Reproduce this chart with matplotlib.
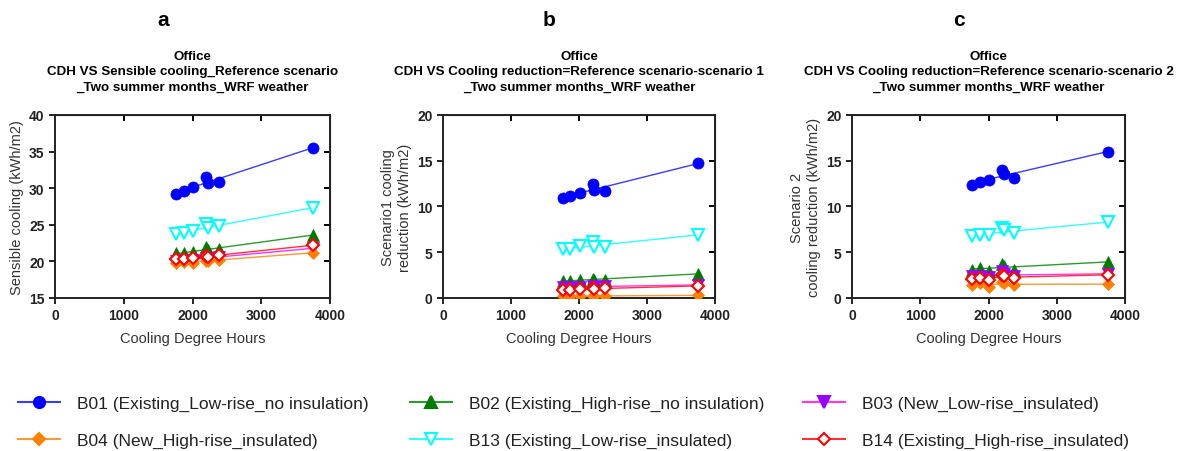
import numpy as np
import matplotlib
matplotlib.use("Agg")
from matplotlib import pyplot as plt
from matplotlib.lines import Line2D

plt.rcParams['font.family'] = ['Liberation Sans', 'DejaVu Sans']

# cooling degree hours of the 7 cities
cdh = [1760, 1870, 2010, 2200, 2220, 2380, 3750]

# panel a: sensible cooling, reference scenario
a_b01 = [29.2, 29.6, 30.2, 31.5, 30.7, 30.9, 35.5]
a_b02 = [21.1, 21.1, 21.3, 21.9, 21.6, 21.7, 23.6]
a_b03 = [20.1, 20.2, 20.2, 20.5, 20.4, 20.6, 21.8]
a_b04 = [19.8, 19.9, 19.8, 20.1, 20.0, 20.2, 21.2]
a_b13 = [23.8, 23.9, 24.2, 25.1, 24.5, 24.8, 27.3]
a_b14 = [20.3, 20.3, 20.4, 20.8, 20.6, 20.9, 22.2]

# panel b: reduction, scenario 1
b_b01 = [10.9, 11.1, 11.5, 12.5, 11.8, 11.7, 14.7]
b_b02 = [1.85, 1.85, 2.0, 2.1, 2.0, 2.0, 2.65]
b_b03 = [1.15, 1.15, 1.2, 1.35, 1.25, 1.3, 1.4]
b_b04 = [0.25, 0.2, 0.2, 0.25, 0.2, 0.2, 0.3]
b_b13 = [5.3, 5.3, 5.7, 6.1, 5.6, 5.6, 6.9]
b_b14 = [0.85, 0.9, 1.0, 1.1, 1.0, 1.05, 1.3]

# panel c: reduction, scenario 2
c_b01 = [12.4, 12.7, 12.9, 14.0, 13.5, 13.1, 16.0]
c_b02 = [3.1, 3.3, 3.0, 3.7, 3.5, 3.1, 3.95]
c_b03 = [2.4, 2.4, 2.3, 2.9, 2.6, 2.4, 2.6]
c_b04 = [1.4, 1.65, 1.25, 1.7, 1.6, 1.4, 1.5]
c_b13 = [6.8, 6.85, 6.9, 7.6, 7.45, 7.1, 8.25]
c_b14 = [2.1, 2.2, 2.0, 2.5, 2.4, 2.2, 2.5]

labels = ["B01 (Existing_Low-rise_no insulation)", "B02 (Existing_High-rise_no insulation)",
          "B03 (New_Low-rise_insulated)", "B04 (New_High-rise_insulated)",
          "B13 (Existing_Low-rise_insulated)", "B14 (Existing_High-rise_insulated)"]

# marker, marker colour, line colour, filled
styles = [("o", "#0000ff", "#3b3bff", True),
          ("^", "#007a00", "#2e9a2e", True),
          ("v", "#9900ff", "#ff33ff", True),
          ("D", "#ff8000", "#ff9933", True),
          ("v", "#00ffff", "#33ffff", False),
          ("D", "#ff0000", "#ff3333", False)]
sizes = [8, 8, 8, 6, 9, 6.5]

panels = [
    dict(data=[a_b01, a_b02, a_b03, a_b04, a_b13, a_b14], ylim=(15, 40), yt=range(15, 41, 5),
         ylabel="Sensible cooling (kWh/m2)", letter="a",
         title="Office\nCDH VS Sensible cooling_Reference scenario\n_Two summer months_WRF weather",
         pos=[0.0465, 0.3385, 0.2325, 0.405]),
    dict(data=[b_b01, b_b02, b_b03, b_b04, b_b13, b_b14], ylim=(0, 20), yt=range(0, 21, 5),
         ylabel="Scenario1 cooling\nreduction (kWh/m2)", letter="b",
         title="Office\nCDH VS Cooling reduction=Reference scenario-scenario 1\n_Two summer months_WRF weather",
         pos=[0.3745, 0.3385, 0.23, 0.405]),
    dict(data=[c_b01, c_b02, c_b03, c_b04, c_b13, c_b14], ylim=(0, 20), yt=range(0, 21, 5),
         ylabel="Scenario 2\ncooling reduction (kWh/m2)", letter="c",
         title="Office\nCDH VS Cooling reduction=Reference scenario-scenario 2\n_Two summer months_WRF weather",
         pos=[0.7202, 0.3385, 0.2308, 0.405]),
]

fig = plt.figure(figsize=(11.83, 4.52), dpi=100)
x = np.array(cdh)
for p in panels:
    ax = fig.add_axes(p["pos"])
    for (m, mc, lc, filled), ys, ms in zip(styles, p["data"], sizes):
        k, b = np.polyfit(x, ys, 1)
        xs = np.array([x.min(), x.max()])
        ax.plot(xs, k * xs + b, color=lc, lw=1.0, zorder=2)
        ax.plot(x, ys, ls="none", marker=m, ms=ms, color=mc,
                mfc=mc if filled else "white", mew=1.5 if not filled else 0.5, zorder=3)
    ax.set_xlim(0, 4000)
    ax.set_ylim(*p["ylim"])
    ax.set_xticks([0, 1000, 2000, 3000, 4000])
    ax.set_yticks(list(p["yt"]))
    for s in ax.spines.values():
        s.set_linewidth(1.4)
        s.set_color("#222222")
    ax.tick_params(direction="out", length=4, width=1.4, labelsize=10, colors="#222222")
    for t in ax.get_xticklabels() + ax.get_yticklabels():
        t.set_fontweight("bold")
    top = ax.secondary_xaxis("top")
    top.set_xticks([1000, 2000, 3000])
    top.tick_params(direction="in", length=4, width=1.4, labeltop=False)
    right = ax.secondary_yaxis("right")
    right.set_yticks(list(p["yt"])[1:-1])
    right.tick_params(direction="in", length=4, width=1.4, labelright=False)
    ax.set_xlabel("Cooling Degree Hours", fontsize=10.5, color="#333333", labelpad=6)
    ax.set_ylabel(p["ylabel"], fontsize=10.5, color="#333333", labelpad=4)
    cx = p["pos"][0] + p["pos"][2] / 2
    fig.text(cx - 0.025, 0.955, p["letter"], fontsize=15, fontweight="bold", ha="center", va="center")
    fig.text(cx, 0.84, p["title"], fontsize=9.6, fontweight="bold", ha="center", va="center",
             linespacing=1.4)

handles = []
for (m, mc, lc, filled), ms in zip(styles, sizes):
    handles.append(Line2D([0], [0], color=lc, lw=1.5, marker=m, ms=ms, mec=mc,
                          mfc=mc if filled else "white", mew=1.5))

# legend: row 1 = B01, B02, B03 ; row 2 = B04, B13, B14
col_x = [18 / 1183, 410 / 1183, 803 / 1183]
for i, cx in enumerate(col_x):
    idx = [i, i + 3]
    leg = fig.legend([handles[j] for j in idx], [labels[j] for j in idx], loc="upper left",
                     bbox_to_anchor=(cx, 1 - 397 / 452), frameon=False, fontsize=12.5,
                     handlelength=2.4, handletextpad=1.0, labelspacing=1.25, borderpad=0,
                     borderaxespad=0)
    for t in leg.get_texts():
        t.set_color("#222222")

fig.savefig("out.png", dpi=100)
